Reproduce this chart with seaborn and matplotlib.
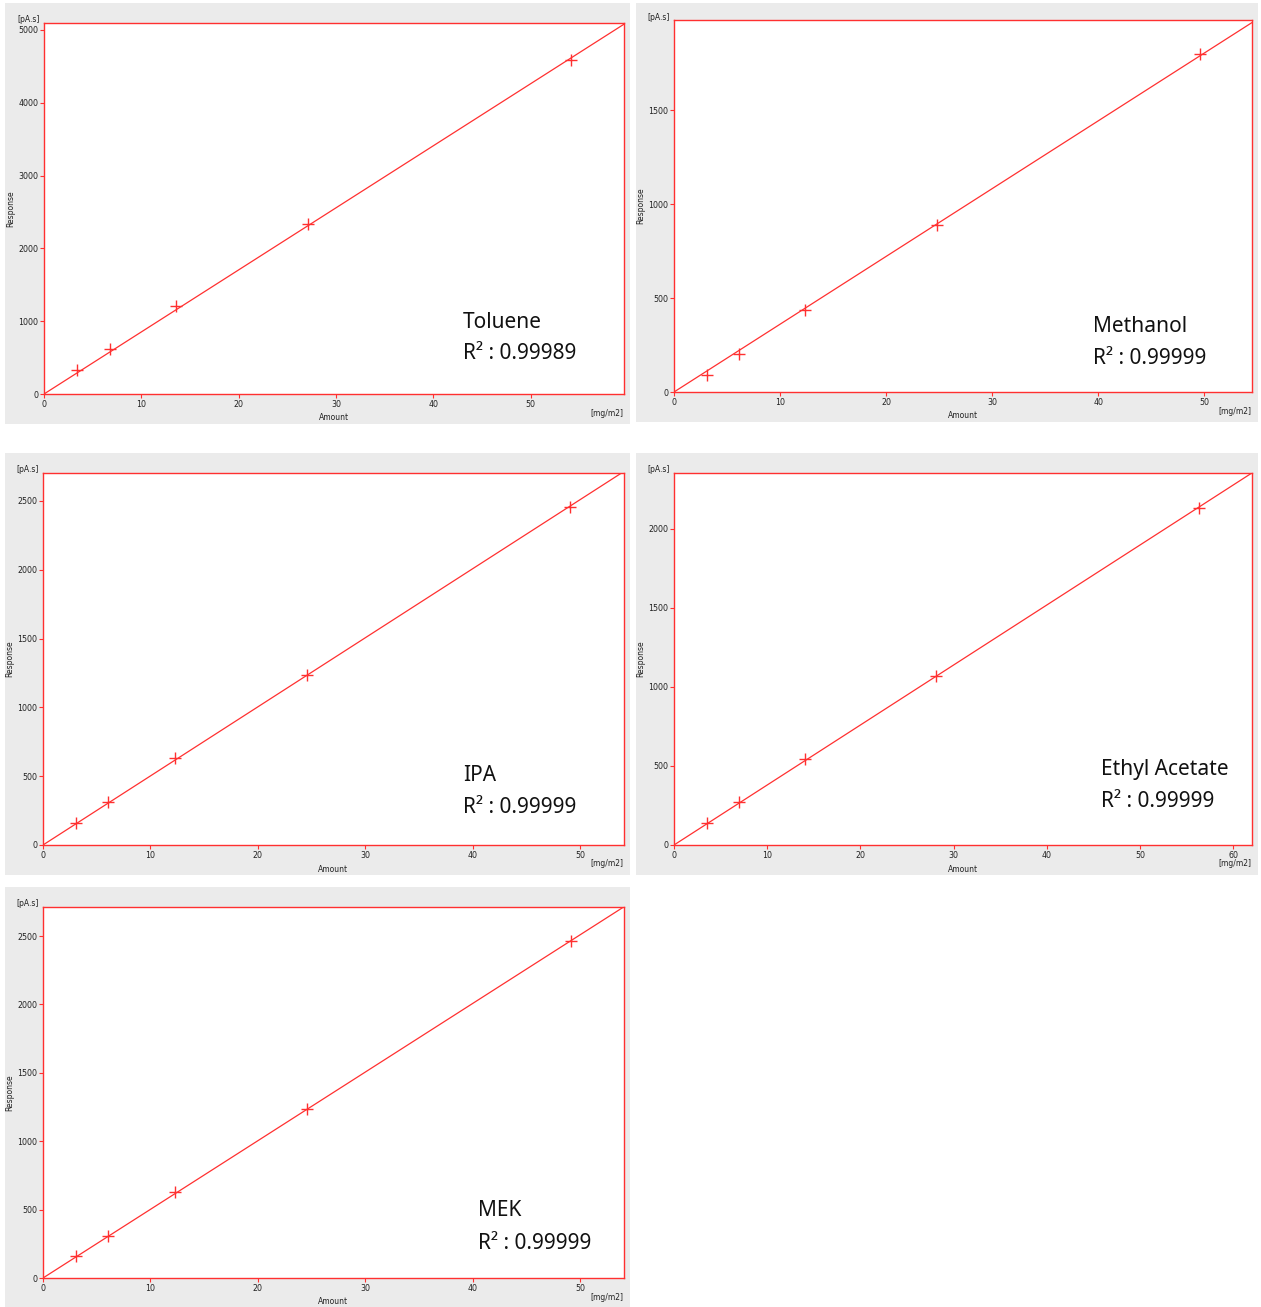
import numpy as np
import matplotlib
matplotlib.use('Agg')
import matplotlib.pyplot as plt
from matplotlib.patches import Rectangle
import seaborn as sns

# calibration data
compounds = ['Toluene', 'Methanol', 'IPA', 'Ethyl Acetate', 'MEK']
r2_values = ['0.99989', '0.99999', '0.99999', '0.99999', '0.99999']

amount_toluene = [3.39, 6.78, 13.57, 27.1, 54.2]
response_toluene = [330, 615, 1205, 2330, 4590]
amount_methanol = [3.1, 6.13, 12.36, 24.8, 49.6]
response_methanol = [90, 202, 436, 888, 1798]
amount_ipa = [3.07, 6.05, 12.29, 24.58, 49.07]
response_ipa = [160, 312, 632, 1235, 2456]
amount_ea = [3.54, 6.97, 14.06, 28.1, 56.3]
response_ea = [139, 272, 544, 1070, 2133]
amount_mek = [3.07, 6.05, 12.29, 24.58, 49.2]
response_mek = [160, 307, 629, 1235, 2463]

amounts = [amount_toluene, amount_methanol, amount_ipa, amount_ea, amount_mek]
responses = [response_toluene, response_methanol, response_ipa, response_ea, response_mek]

x_max = [59.6, 54.5, 54.1, 62.0, 54.1]
y_max = [5096, 1979, 2703, 2354, 2712]
y_step = [1000, 500, 500, 500, 500]
x_tick_max = [50, 50, 50, 60, 50]

# layout in pixels: (gray panel box), (axes box) as x0, y0, x1, y1
W, H = 1261, 1307
panels = [
    ((5, 3, 630, 424), (44, 23, 624, 394)),
    ((636, 3, 1258, 422), (674, 20, 1252, 392)),
    ((5, 453, 630, 875), (43, 473, 624, 845)),
    ((636, 453, 1258, 875), (674, 473, 1252, 845)),
    ((5, 887, 630, 1307), (43, 907, 624, 1278)),
]
# annotation positions (axes fraction): x, y of name, y of R2
label_pos = [
    (0.722, 0.194, 0.108),
    (0.725, 0.177, 0.091),
    (0.723, 0.188, 0.102),
    (0.739, 0.202, 0.116),
    (0.749, 0.181, 0.094),
]

RED = '#ff3030'
GRAY = '#ebebeb'

sns.set_style('white')
plt.rcParams['font.family'] = ['DejaVu Sans']

fig = plt.figure(figsize=(W / 100, H / 100), dpi=100)


def rect(box):
    x0, y0, x1, y1 = box
    return [x0 / W, 1 - y1 / H, (x1 - x0) / W, (y1 - y0) / H]


for i, name in enumerate(compounds):
    gbox, abox = panels[i]
    g = rect(gbox)
    fig.add_artist(Rectangle((g[0], g[1]), g[2], g[3], transform=fig.transFigure,
                             facecolor=GRAY, edgecolor='none', zorder=-5))
    ax = fig.add_axes(rect(abox))
    ax.set_facecolor('white')
    axw = abox[2] - abox[0]
    axh = abox[3] - abox[1]

    x = np.array(amounts[i], dtype=float)
    y = np.array(responses[i], dtype=float)
    slope = np.sum(x * y) / np.sum(x * x)  # fit through origin
    ax.axline((0, 0), slope=slope, color=RED, lw=0.9, zorder=2)
    sns.scatterplot(x=x, y=y, marker='+', s=80, color=RED, linewidth=1.0,
                    ax=ax, zorder=3, legend=False)

    ax.set_xlim(0, x_max[i])
    ax.set_ylim(0, y_max[i])
    ax.set_xticks(np.arange(0, x_tick_max[i] + 1, 10))
    ax.set_yticks(np.arange(0, y_max[i], y_step[i]))
    ax.tick_params(length=3, width=0.8, color=RED, labelsize=5.7, pad=1,
                   labelcolor='#222222', left=True, bottom=True)
    ax.set_xlabel('')
    ax.set_ylabel('')
    for sp in ax.spines.values():
        sp.set_color(RED)
        sp.set_linewidth(1.0)
        sp.set_visible(True)

    small = dict(fontsize=5.5, color='#222222', transform=ax.transAxes)
    ax.text(0.5, -24 / axh, 'Amount', ha='center', va='center', **small)
    ax.text(1 - 1 / axw, -19 / axh, '[mg/m2]', ha='right', va='center', **small)
    ax.text(-33 / axw, 0.5, 'Response', ha='center', va='center', rotation=90, **small)
    ax.text(-4 / axw, 1 + 3 / axh, '[pA.s]', ha='right', va='center', **small)

    lx, ly1, ly2 = label_pos[i]
    ax.text(lx, ly1, name, transform=ax.transAxes, fontsize=15, family=['Noto Sans', 'DejaVu Sans'],
            color='#111111', ha='left', va='center')
    ax.text(lx, ly2, 'R\u00b2 : ' + r2_values[i], transform=ax.transAxes, fontsize=15,
            family=['Noto Sans', 'DejaVu Sans'], color='#111111', ha='left', va='center')

fig.savefig('out.png', dpi=100, facecolor='white')
